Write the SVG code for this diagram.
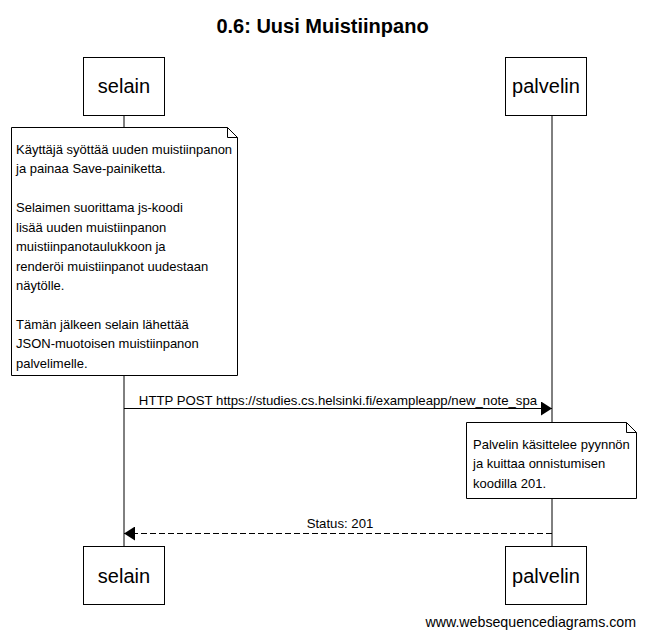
<svg xmlns="http://www.w3.org/2000/svg" width="645" height="637" viewBox="0 0 645 637">
<defs>
<style>
text{font-family:"Liberation Sans",Arial,sans-serif;fill:#000}
.box{fill:#fff;stroke:#000;stroke-width:1}
.life{stroke:#000;stroke-width:1}
.actor{font-size:20px;text-anchor:middle}
.note{font-size:13px}
.msg{font-size:13.2px;text-anchor:middle}
.line{stroke:#000;stroke-width:1;fill:none}
</style>
<marker id="arr" markerWidth="12" markerHeight="14" refX="11" refY="7" orient="auto" markerUnits="userSpaceOnUse">
<path d="M0,0 L11,7 L0,14 Z" fill="#000"/>
</marker>
</defs>
<rect width="645" height="637" fill="#fff"/>
<text x="322.5" y="33" font-size="20" font-weight="bold" text-anchor="middle">0.6: Uusi Muistiinpano</text>
<g id="lifelines">
<line class="life" x1="124" y1="115" x2="124" y2="546"/>
<line class="life" x1="552" y1="115" x2="552" y2="546"/>
</g>
<g id="selain">
<rect class="box" x="83.5" y="57.5" width="81" height="58"/>
<text class="actor" x="124" y="93">selain</text>
</g>
<g id="palvelin">
<rect class="box" x="505.5" y="57.5" width="81" height="58"/>
<text class="actor" x="546" y="93">palvelin</text>
</g>
<g id="note1">
<path class="box" d="M11.5,127.5 H227.5 L237.5,137.5 V375.5 H11.5 Z"/>
<path class="line" d="M227.5,127.5 V137.5 H237.5"/>
<text class="note" x="16" y="154">Käyttäjä syöttää uuden muistiinpanon</text>
<text class="note" x="16" y="173">ja painaa Save-painiketta.</text>
<text class="note" x="16" y="212">Selaimen suorittama js-koodi</text>
<text class="note" x="16" y="232">lisää uuden muistiinpanon</text>
<text class="note" x="16" y="251">muistiinpanotaulukkoon ja</text>
<text class="note" x="16" y="271">renderöi muistiinpanot uudestaan</text>
<text class="note" x="16" y="290">näytölle.</text>
<text class="note" x="16" y="329">Tämän jälkeen selain lähettää</text>
<text class="note" x="16" y="348">JSON-muotoisen muistiinpanon</text>
<text class="note" x="16" y="368">palvelimelle.</text>
</g>
<g id="note2">
<path class="box" d="M466.5,422.5 H626.5 L636.5,432.5 V498.5 H466.5 Z"/>
<path class="line" d="M626.5,422.5 V432.5 H636.5"/>
<text class="note" x="473" y="449">Palvelin käsittelee pyynnön</text>
<text class="note" x="473" y="468">ja kuittaa onnistumisen</text>
<text class="note" x="473" y="488">koodilla 201.</text>
</g>
<g id="connectors">
<line class="line" x1="124" y1="408.5" x2="552" y2="408.5" marker-end="url(#arr)"/>
<text class="msg" x="338" y="405">HTTP POST https://studies.cs.helsinki.fi/exampleapp/new_note_spa</text>
<line class="line" x1="552" y1="533.5" x2="124" y2="533.5" stroke-dasharray="6,3" marker-end="url(#arr)"/>
<text class="msg" x="340" y="528">Status: 201</text>
</g>
<g id="selain-bottom">
<rect class="box" x="83.5" y="546.5" width="81" height="58"/>
<text class="actor" x="124" y="583">selain</text>
</g>
<g id="palvelin-bottom">
<rect class="box" x="505.5" y="546.5" width="81" height="58"/>
<text class="actor" x="546" y="583">palvelin</text>
</g>
<text x="636" y="627" font-size="14.2" text-anchor="end">www.websequencediagrams.com</text>
</svg>
